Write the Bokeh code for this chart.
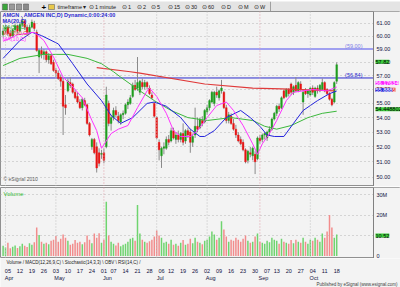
from bokeh.plotting import figure
from bokeh.layouts import column
from bokeh.models import (Range1d, FixedTicker, NumeralTickFormatter, Label, LinearAxis, LogAxis,
                          Span, Grid, BoxAnnotation)
from bokeh.embed import file_html
from bokeh.resources import INLINE

FONT = "Liberation Sans"

# ---------------- data (daily bars, Mar 31 .. Oct 18 2010) ----------------
opens = [60.1, 60.4, 60.7, 60.2, 60.0, 60.5, 60.8, 60.4, 60.9, 61.2,
         60.7, 60.3, 60.7, 61.0, 60.3, 58.4, 58.9, 58.6, 58.8, 58.2,
         58.5, 58.0, 57.4, 57.2, 56.9, 56.6, 54.9, 55.9, 56.5, 56.4,
         55.8, 55.5, 55.1, 54.7, 55.2, 54.9, 53.6, 52.0, 52.5, 52.0,
         51.6, 51.5, 51.6, 52.0, 55.0, 53.6, 54.0, 54.5, 54.1, 53.7,
         54.2, 54.3, 54.9, 55.0, 55.5, 56.3, 56.1, 55.8, 56.5, 56.2,
         56.5, 56.1, 55.6, 55.0, 54.0, 52.3, 51.4, 51.9, 51.9, 52.5,
         52.4, 53.1, 52.5, 52.8, 52.5, 52.9, 52.4, 53.1, 53.0, 52.3,
         52.8, 53.4, 53.3, 53.8, 53.7, 54.4, 54.7, 55.1, 55.0, 55.8,
         55.4, 55.9, 55.8, 54.7, 53.8, 54.1, 53.6, 53.2, 52.8, 52.5,
         52.3, 51.8, 51.1, 51.6, 51.4, 51.5, 51.2, 52.6, 52.5, 52.8,
         52.6, 53.0, 53.2, 53.9, 54.3, 54.8, 54.7, 55.9, 55.5, 56.0,
         56.4, 55.8, 56.3, 55.9, 56.4, 55.1, 55.9, 55.7, 55.6, 56.1,
         55.5, 56.1, 55.9, 56.0, 56.5, 56.0, 55.7, 55.3, 55.1, 56.6]
highs = [60.6, 60.9, 60.8, 60.5, 60.6, 61.0, 60.9, 61.1, 61.5, 61.3,
         60.9, 60.9, 61.3, 61.2, 60.5, 59.0, 59.2, 59.0, 58.9, 58.7,
         58.6, 58.2, 57.6, 57.4, 57.1, 56.8, 55.6, 56.8, 56.9, 56.5,
         56.0, 55.8, 55.3, 55.4, 55.4, 55.0, 53.7, 52.6, 52.6, 52.3,
         51.9, 51.8, 51.9, 56.2, 55.2, 54.2, 54.7, 54.8, 54.4, 54.3,
         54.5, 55.0, 55.3, 55.6, 56.5, 56.7, 58.4, 56.7, 56.8, 56.7,
         56.6, 56.3, 55.8, 55.1, 54.1, 52.5, 52.0, 52.3, 52.7, 52.8,
         53.3, 53.3, 53.0, 53.1, 53.0, 53.6, 53.2, 53.3, 53.2, 52.9,
         54.7, 54.0, 54.0, 54.1, 54.6, 54.9, 55.3, 55.9, 55.9, 56.2,
         56.0, 56.7, 55.9, 54.9, 54.4, 54.3, 53.9, 53.5, 53.0, 52.7,
         52.5, 51.9, 51.8, 52.0, 52.0, 51.7, 52.7, 52.8, 52.9, 53.0,
         53.1, 53.4, 54.0, 54.4, 54.9, 55.0, 55.5, 56.0, 56.1, 56.1,
         56.5, 56.3, 56.9, 56.6, 56.6, 56.0, 56.1, 56.0, 56.2, 56.3,
         56.2, 56.3, 56.4, 56.8, 56.6, 56.1, 55.8, 55.4, 56.6, 58.0]
lows = [59.9, 60.2, 60.0, 59.8, 59.9, 60.3, 60.2, 60.3, 60.7, 60.5,
        60.1, 60.2, 60.6, 60.4, 58.8, 57.2, 58.3, 58.2, 58.0, 57.9,
        57.8, 57.3, 56.9, 56.7, 56.2, 52.8, 54.2, 55.8, 56.1, 55.7,
        55.3, 55.0, 54.6, 54.5, 54.8, 53.5, 52.7, 51.8, 51.5, 50.3,
        50.7, 51.2, 50.9, 51.9, 53.4, 53.1, 53.8, 54.0, 53.6, 53.5,
        53.9, 54.2, 54.6, 54.9, 55.4, 55.9, 55.9, 55.6, 56.0, 56.0,
        56.0, 55.6, 55.3, 54.0, 52.5, 51.1, 50.6, 51.5, 51.8, 52.1,
        52.3, 52.5, 52.2, 52.3, 52.3, 52.1, 52.2, 52.6, 51.6, 52.0,
        52.6, 53.0, 53.2, 53.4, 53.6, 54.2, 54.5, 55.0, 54.8, 55.4,
        55.2, 55.7, 54.6, 53.6, 53.6, 53.5, 53.1, 52.6, 52.3, 52.1,
        51.7, 50.9, 50.9, 51.3, 51.1, 50.2, 51.1, 52.2, 52.3, 52.5,
        52.4, 52.8, 53.1, 53.8, 54.1, 54.4, 54.6, 55.3, 55.4, 55.5,
        55.6, 55.6, 55.8, 55.8, 55.9, 54.2, 55.6, 55.4, 55.5, 55.6,
        55.4, 55.7, 55.8, 55.9, 55.8, 55.6, 55.2, 54.8, 55.0, 56.4]
closes = [60.4, 60.7, 60.2, 60.0, 60.5, 60.8, 60.4, 60.9, 61.2, 60.7,
          60.3, 60.7, 61.1, 60.6, 58.9, 58.9, 58.6, 58.8, 58.2, 58.5,
          57.9, 57.4, 57.2, 56.8, 56.6, 54.8, 54.7, 56.6, 56.3, 55.8,
          55.4, 55.1, 54.7, 55.3, 54.9, 53.6, 52.8, 52.5, 51.6, 50.6,
          50.9, 51.55, 51.1, 55.6, 53.6, 54.0, 54.5, 54.2, 53.8, 54.2,
          54.3, 54.9, 55.1, 55.4, 56.3, 56.0, 56.5, 56.6, 56.2, 56.5,
          56.2, 55.7, 55.4, 54.1, 52.6, 51.8, 51.9, 52.0, 52.5, 52.3,
          53.1, 52.6, 52.8, 52.5, 52.9, 52.3, 53.1, 52.8, 52.3, 52.7,
          53.4, 53.2, 53.9, 53.6, 54.5, 54.7, 55.2, 55.8, 55.8, 55.6,
          55.9, 56.1, 54.7, 53.8, 54.2, 53.6, 53.2, 52.8, 52.4, 52.2,
          51.8, 51.0, 51.7, 51.5, 51.9, 51.0, 52.6, 52.4, 52.8, 52.9,
          53.0, 53.2, 53.9, 54.3, 54.8, 54.6, 55.4, 55.4, 56.0, 55.7,
          55.8, 56.2, 55.9, 56.5, 56.0, 55.8, 55.7, 55.9, 56.1, 55.8,
          56.1, 55.9, 56.3, 56.5, 55.9, 55.7, 55.3, 54.9, 56.5, 57.82]
volumes_m = [5.0, 4.2, 6.5, 3.8, 4.5, 5.2, 3.9, 4.8, 6.0, 5.0,
             4.4, 6.2, 5.5, 6.8, 14.0, 10.3, 7.0, 6.0, 6.5, 5.8,
             7.5, 8.0, 9.8, 7.0, 8.5, 10.5, 9.0, 7.5, 5.5, 6.0,
             7.8, 6.5, 7.0, 5.8, 6.8, 10.0, 8.0, 6.2, 11.0, 9.0,
             11.2, 6.5, 8.0, 26.5, 10.0, 7.0, 6.0, 5.2, 6.5, 4.8,
             5.5, 6.0, 7.0, 8.5, 9.0, 7.5, 25.0, 11.0, 8.0, 7.0,
             6.5, 7.2, 8.0, 9.5, 12.5, 10.0, 9.0, 6.5, 7.0, 6.0,
             8.0, 5.5, 6.0, 5.0, 6.5, 7.8, 5.5, 6.0, 8.5, 6.2,
             9.0, 7.0, 6.5, 5.8, 7.5, 8.0, 9.5, 12.0, 10.5, 8.0,
             9.0, 17.0, 13.0, 9.5, 7.0, 8.0, 7.5, 9.0, 8.0, 7.0,
             8.5, 10.0, 7.5, 6.5, 7.0, 9.5, 11.0, 7.0, 6.5, 6.0,
             7.5, 6.8, 9.0, 8.0, 7.5, 6.0, 8.5, 7.0, 6.5, 6.0,
             7.8, 6.2, 8.0, 7.0, 6.5, 9.0, 7.0, 6.0, 8.0, 7.5,
             9.0, 8.0, 7.0, 11.0, 9.0, 12.0, 20.0, 14.0, 9.0, 10.52]

# moving averages (bar index, value)
ma10_bars = [0, 6, 13, 17, 21, 25, 29, 33, 37, 39, 41, 45, 48, 52, 56, 60, 61, 64, 68, 71,
             74, 78, 81, 85, 89, 93, 96, 100, 104, 106, 108, 111, 114, 118, 121, 125, 129, 135, 138, 139]
ma10_vals = [59.6, 60.1, 60.3, 59.66, 58.4, 56.9, 56.2, 55.4, 53.8, 53.1, 51.9, 52.9, 53.2, 53.45, 54.7, 55.9, 56.1, 55.5, 54.3, 53.1,
             52.7, 52.7, 53.1, 54.0, 54.85, 55.1, 54.5, 53.45, 52.2, 51.5, 52.2, 52.9, 53.8, 55.2, 55.8, 55.9, 56.0, 55.9, 56.1, 56.18]
ma20_bars = [0, 7, 12, 16, 23, 29, 35, 41, 45, 49, 54, 60, 63, 68, 74, 78, 82, 84, 88, 93,
             99, 103, 107, 110, 113, 117, 121, 125, 131, 136, 139]
ma20_vals = [58.3, 59.66, 60.3, 60.04, 59.4, 57.9, 56.4, 55.2, 54.15, 53.6, 54.0, 55.0, 55.1, 54.8, 54.0, 53.2, 52.7, 52.7, 53.1, 54.0,
             54.5, 54.0, 53.4, 52.8, 52.7, 52.7, 53.6, 54.5, 55.2, 55.7, 55.89]
ma50_bars = [0, 7, 17, 27, 35, 41, 46, 49, 57, 63, 70, 77, 85, 95, 104, 109, 114, 120, 127, 133, 139]
ma50_vals = [57.76, 58.3, 58.6, 58.6, 58.3, 57.9, 57.3, 56.9, 55.9, 55.2, 54.5, 54.0, 53.8, 54.0, 53.8, 53.4, 53.2, 53.45, 54.0, 54.3, 54.45]
ma200_bars = [39, 53, 57, 84, 104, 116, 138]
ma200_vals = [57.6, 57.3, 57.2, 56.4, 56.1, 56.05, 55.9]

price_ticks = [50, 51, 52, 53, 54, 55, 56, 57, 58, 59, 60, 61]
vol_ticks = [0, 20, 30]
vol_tick_labels = ["0", "20M", "30M"]
week_bars = [2, 7, 12, 17, 22, 27, 32, 37, 42, 46, 51, 56, 61, 66, 70, 75, 80, 85, 90, 95,
             100, 105, 110, 114, 119, 124, 129, 134, 139]
week_labels = ["05", "12", "19", "26", "03", "10", "17", "24", "01", "07", "14", "21", "28", "06",
               "12", "19", "26", "02", "09", "16", "23", "30", "07", "13", "20", "27", "04", "11", "18"]
month_bars = [1, 22, 42, 64, 85, 107, 128]
month_labels = ["Apr", "May", "Jun", "Jul", "Aug", "Sep", "Oct"]
hline_levels = [59.00, 56.84]
last_price = 57.82
last_ma10 = 56.17634
last_ma20 = 55.888
last_ma200 = 55.9176
last_ma50 = 54.448802
last_volume = 10.52

# ---------------- layout constants (pixels -> bar units) ----------------
PX = 2.4                      # pixels per bar
X0 = 2.6                      # canvas x of bar 0
def bx(px):                   # canvas x -> bar coordinate
    return (px - X0) / PX
X_AXIS = bx(373)              # where the price/volume axis line sits

BG = "#f3f3f3"
GRID = "#b4b4b4"
UP, DN = "#1f9e1f", "#e81414"
VUP, VDN = "#6fd46f", "#f28c8c"

def label(fig, x, y, text, color="#000000", size="6px", align="left", bg=None,
          xu="screen", yu="screen", style="normal", yoff=0):
    lb = Label(x=x, y=y, x_units=xu, y_units=yu, text=text, text_color=color,
               text_font_size=size, text_align=align, text_baseline="middle",
               text_font=FONT, text_font_style=style, y_offset=yoff)
    if bg is not None:
        lb.background_fill_color = bg
    fig.add_layout(lb)

def style_axis(ax, size="5.5px", standoff=0, line=None):
    ax.major_label_text_font_size = size
    ax.major_label_text_font = FONT
    ax.major_label_text_color = "#101040"
    ax.major_tick_out = 0
    ax.major_tick_in = 0
    ax.minor_tick_out = 0
    ax.minor_tick_in = 0
    ax.major_tick_line_color = None
    ax.minor_tick_line_color = None
    ax.axis_line_color = line
    ax.major_label_standoff = standoff

N = len(closes)
bars = list(range(N))
up = [c >= o for o, c in zip(opens, closes)]
body_top = [max(o, c) for o, c in zip(opens, closes)]
body_bot = [min(o, c) for o, c in zip(opens, closes)]
ccol = [UP if u else DN for u in up]
vcol = [VUP if u else VDN for u in up]

xr = Range1d(bx(0), bx(400))

# ---------------- toolbar strip ----------------
h = figure(width=400, height=11, x_range=Range1d(0, 400), y_range=Range1d(0, 11),
           x_axis_location=None, y_axis_location=None, output_backend="svg",
           toolbar_location=None, min_border=0)
h.background_fill_color = "#e4e4e4"
h.border_fill_color = "#e4e4e4"
h.outline_line_color = None
h.grid.visible = False
h.quad(left=[2, 9, 16, 23, 48], right=[7, 14, 21, 28, 54], bottom=[2.5, 2.5, 2.5, 2.5, 3],
       top=[8.5, 8.5, 8.5, 8.5, 8], fill_color=["#3aa63a", "#9a9a9a", "#9a9a9a", "#8a8a8a", "#e8c84a"],
       line_color="#555555", line_width=0.5)
label(h, 41, 5.5, "+", "#000000", "8px", style="bold")
tb_items = [("timeframe", 57), ("\u25be", 82), ("\u2299 1 minute", 88), ("\u2299 1", 121), ("\u2299 2", 136),
            ("\u2299 5", 150), ("\u2299 15", 167), ("\u2299 30", 184), ("\u2299 60", 201),
            ("\u2299 D", 220), ("\u2299 M", 237), ("\u2299 W", 253)]
for t, xx in tb_items:
    label(h, xx, 5.5, t, "#202020", "5.5px")
h.add_layout(Span(location=270, dimension="height", line_color="#a0a0a0", line_width=1))

# ---------------- price panel ----------------
p = figure(width=400, height=175, x_range=xr, y_range=Range1d(49.40, 61.94), y_axis_type="log",
           y_axis_location=None, x_axis_location=None, output_backend="svg",
           toolbar_location=None, min_border=0)
p.background_fill_color = BG
p.border_fill_color = BG
p.outline_line_color = "#909090"
p.grid.visible = False
p.add_layout(Grid(dimension=1, ticker=FixedTicker(ticks=price_ticks), grid_line_color=GRID,
                  grid_line_dash="1 3", grid_line_width=1))
p.add_layout(BoxAnnotation(left=X_AXIS, fill_color=BG, fill_alpha=1, line_color=None, level="underlay"))

pax = LogAxis(ticker=FixedTicker(ticks=price_ticks), formatter=NumeralTickFormatter(format="0.00"),
              fixed_location=X_AXIS)
style_axis(pax, "5.5px", 3, "#808080")
p.add_layout(pax, "right")

vcolors_grid = ["#c0c0c0", "#c0c0c0", "#e0a0a8", "#c0c0c0", "#c0c0c0", "#e0a0a8", "#c0c0c0"]
for b, c in zip(month_bars, vcolors_grid):
    p.add_layout(Span(location=b, dimension="height", line_color=c, line_dash="1 2", line_width=1))

p.segment(x0=[xr.start, xr.start], x1=[X_AXIS, X_AXIS], y0=hline_levels, y1=hline_levels,
          line_color=["#a0a0f0", "#2a2acc"], line_width=[2, 1])

p.segment(x0=bars, y0=lows, x1=bars, y1=highs, line_color="#8a8a8a", line_width=1)
p.vbar(x=bars, top=body_top, bottom=body_bot, width=0.72, fill_color=ccol, line_color=ccol, line_width=0.4)

p.line(ma200_bars, ma200_vals, line_color="#e03a3a", line_width=1.2)
p.line(ma50_bars, ma50_vals, line_color="#3cb83c", line_width=1)
p.line(ma20_bars, ma20_vals, line_color="#2323dd", line_width=1)
p.line(ma10_bars, ma10_vals, line_color="#ff33ff", line_width=1)

def py(cy):
    return 186 - cy

label(p, 2, py(14), "AMGN . AMGEN INC,D) Dynamic,0:00:24:00", "#2a2ad0", "5.5px", style="bold")
label(p, 2, py(20), "MA(20,C)", "#2a2ad0", "5.5px", style="bold")
label(p, 2, py(26), "MA(50,C)", "#30b030", "5.5px")
label(p, 2, py(32), "MA(200,C)", "#e03a3a", "5.5px")
label(p, 2, py(38), "MA(10,C)", "#ff33ff", "5.5px")
label(p, 3, py(178), "\u00a9 eSignal 2010", "#606060", "5px")
label(p, 362, hline_levels[0], "(%.2f)" % hline_levels[0], "#8080e8", "5.5px", align="right", yu="data", yoff=3)
label(p, 362, hline_levels[1], "(%.2f)" % hline_levels[1], "#2a2acc", "5.5px", align="right", yu="data", yoff=3)

label(p, 375, last_price, "%.2f" % last_price, "#000000", "5.5px", bg="#3ccc3c", yu="data", yoff=3)
label(p, 375, last_ma200, "%.4f" % last_ma200, "#ffffff", "5.5px", bg="#e82020", yu="data", yoff=1)
label(p, 375, last_ma20, "%.3f" % last_ma20, "#ffffff", "5.5px", bg="#2a2ad8", yu="data", yoff=1)
label(p, 375, last_ma10, "%.5f" % last_ma10, "#ffffff", "5.5px", bg="#ff22ff", yu="data", yoff=4)
label(p, 375, last_ma50, "%.6f" % last_ma50, "#000000", "5.5px", bg="#3ccc3c", yu="data", yoff=2)

# ---------------- volume panel ----------------
v = figure(width=400, height=72, x_range=xr, y_range=Range1d(-1.2, 33.5),
           y_axis_location=None, x_axis_location=None,
           output_backend="svg", toolbar_location=None, min_border_left=0, min_border_right=0,
           min_border_top=1, min_border_bottom=0)
v.background_fill_color = BG
v.border_fill_color = BG
v.outline_line_color = "#909090"
v.grid.visible = False
v.add_layout(Grid(dimension=1, ticker=FixedTicker(ticks=[10, 20, 30]), grid_line_color=GRID,
                  grid_line_dash="1 3", grid_line_width=1))
v.add_layout(BoxAnnotation(left=X_AXIS, fill_color=BG, fill_alpha=1, line_color=None, level="underlay"))
for b, c in zip(month_bars, vcolors_grid):
    v.add_layout(Span(location=b, dimension="height", line_color=c, line_dash="1 2", line_width=1))
v.vbar(x=bars, top=volumes_m, bottom=0, width=0.62, fill_color=vcol, line_color=None)

vax = LinearAxis(ticker=FixedTicker(ticks=vol_ticks),
                 major_label_overrides={t: s for t, s in zip(vol_ticks, vol_tick_labels)},
                 fixed_location=X_AXIS)
style_axis(vax, "5.5px", 3, "#808080")
v.add_layout(vax, "right")

label(v, 3, 258 - 193, "Volume", "#33bb33", "6px")
label(v, 375, last_volume, "%.2f" % last_volume, "#000000", "5.5px", bg="#3ccc3c", yu="data", yoff=-1)

# ---------------- bottom strip: tabs, date axis, month axis, footer ----------------
bt = figure(width=400, height=29, x_range=xr, y_range=Range1d(29, 0),
            y_axis_location=None, x_axis_location=None, output_backend="svg",
            toolbar_location=None, min_border=0)
bt.background_fill_color = BG
bt.border_fill_color = BG
bt.outline_line_color = None
bt.grid.visible = False

date_axis = LinearAxis(ticker=FixedTicker(ticks=week_bars),
                       major_label_overrides={b: s for b, s in zip(week_bars, week_labels)},
                       fixed_location=10.0)
style_axis(date_axis, "5.5px", 0)
bt.add_layout(date_axis, "below")

month_pos = [b + 1.5 for b in month_bars]
m_axis = LinearAxis(ticker=FixedTicker(ticks=month_pos),
                    major_label_overrides={b: s for b, s in zip(month_pos, month_labels)},
                    fixed_location=16.3)
style_axis(m_axis, "5.5px", 0)
bt.add_layout(m_axis, "below")

label(bt, 6, 3.5, "Volume / MACD(12,26,9,C) \\ Stochastic(14,3,3) \\ OBV \\ RSI(14,C) /",
      "#202020", "4.5px", yu="data")
label(bt, 397, 25.5, "Published by eSignal (www.esignal.com)", "#404040", "4.5px", align="right", yu="data")

layout = column(h, p, v, bt)
open("out.html", "w").write(file_html(layout, INLINE))
